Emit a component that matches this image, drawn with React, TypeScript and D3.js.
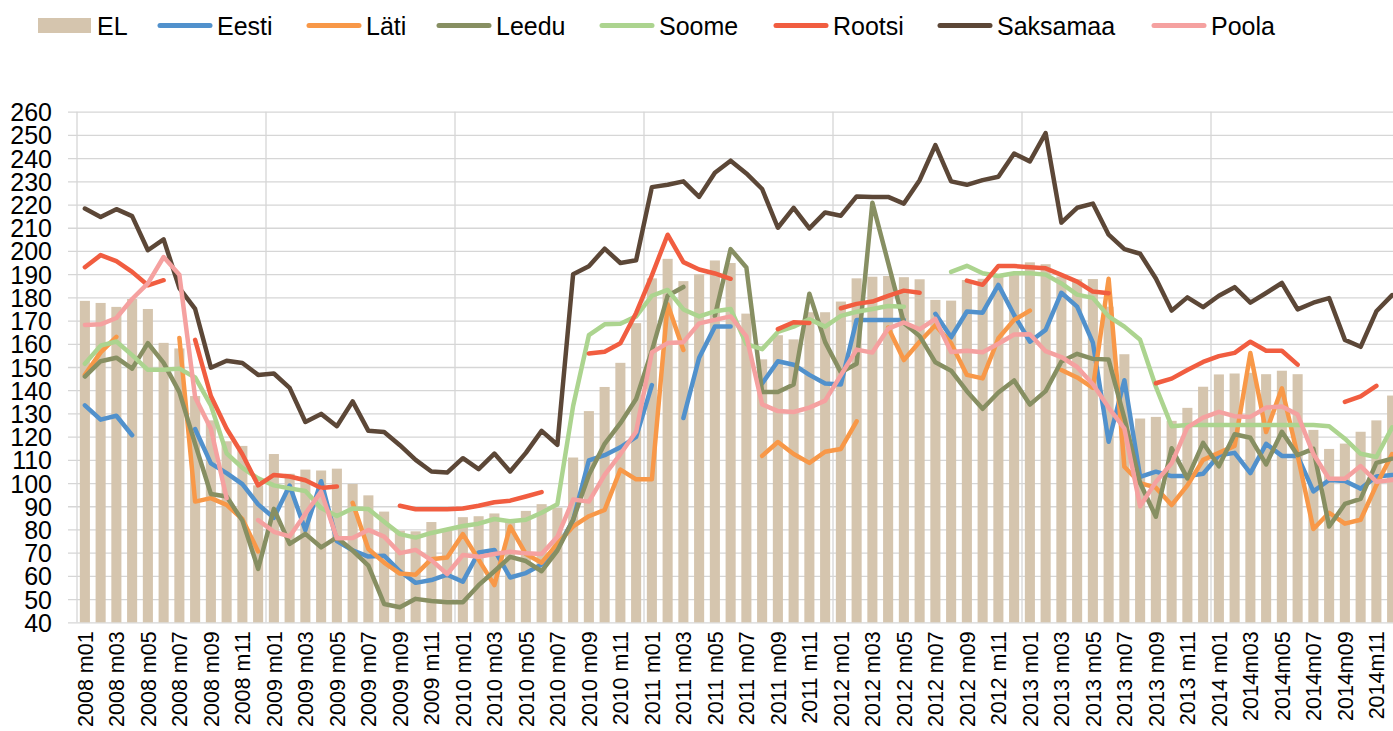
import { useEffect, useRef } from "react";
import * as d3 from "d3";

// month labels, 2008 m01 .. 2014 m12
const categories = [
  "2008 m01", "2008 m02", "2008 m03", "2008 m04", "2008 m05", "2008 m06",
  "2008 m07", "2008 m08", "2008 m09", "2008 m10", "2008 m11", "2008 m12",
  "2009 m01", "2009 m02", "2009 m03", "2009 m04", "2009 m05", "2009 m06",
  "2009 m07", "2009 m08", "2009 m09", "2009 m10", "2009 m11", "2009 m12",
  "2010 m01", "2010 m02", "2010 m03", "2010 m04", "2010 m05", "2010 m06",
  "2010 m07", "2010 m08", "2010 m09", "2010 m10", "2010 m11", "2010 m12",
  "2011 m01", "2011 m02", "2011 m03", "2011 m04", "2011 m05", "2011 m06",
  "2011 m07", "2011 m08", "2011 m09", "2011 m10", "2011 m11", "2011 m12",
  "2012 m01", "2012 m02", "2012 m03", "2012 m04", "2012 m05", "2012 m06",
  "2012 m07", "2012 m08", "2012 m09", "2012 m10", "2012 m11", "2012 m12",
  "2013 m01", "2013 m02", "2013 m03", "2013 m04", "2013 m05", "2013 m06",
  "2013 m07", "2013 m08", "2013 m09", "2013 m10", "2013 m11", "2013 m12",
  "2014 m01", "2014m02", "2014m03", "2014m04", "2014m05", "2014m06",
  "2014m07", "2014m08", "2014m09", "2014m10", "2014m11", "2014m12",
];

const yTicks = [40, 50, 60, 70, 80, 90, 100, 110, 120, 130, 140, 150, 160, 170, 180, 190, 200, 210, 220, 230, 240, 250, 260];

const EL = [
  178.5, 177.6, 175.9, 179.3, 175, 160.4, 158, 137.5, 127, 118, 116, 99,
  112.5, 104, 105.8, 105.4, 106.2, 99.6, 94.7, 87.7, 79.5, 79.2, 83.2, 80,
  85.3, 85.7, 86.9, 84.5, 88, 90.9, 89.4, 111, 131, 141.4, 151.8, 168.9,
  188.2, 196.6, 187, 190, 195.9, 194.8, 173, 153.3, 163.7, 161.9, 173.6, 173.6,
  178.2, 188.2, 188.9, 189.2, 188.7, 187.8, 178.9, 178.6, 187.5, 188, 189, 190.4,
  195.1, 194.3, 189, 187.8, 187.9, 176, 155.5, 127.8, 128.5, 126.8, 132.4, 141.5,
  146.8, 147.2, 147.5, 146.9, 148.4, 146.9, 122.9, 114.7, 117, 122.1, 127, 137.7,
];

const eesti = [
  133.5, 127.3, 129, 120.6, null, null, null, 123.3, 108.5, 104.3, 99.5, 90.8,
  85, 98.9, 79.7, 100.8, 75, 71, 68.3, 68.7, 62, 57, 58.2, 60.5,
  57.5, 70.1, 71.2, 59.3, 61.2, 64.9, 72, 84, 109.8, 112, 115.4, 119.9,
  142.2, null, 128, 154, 167.4, 167.4, null, 142.9, 152.5, 151, 146.6, 142.9,
  142.5, 170.3, 170.3, 170.3, 170.3, null, 172.9, 162.8, 173.9, 173.4, 185.4, 172.4,
  160.9, 166, 182, 176, 160.5, 117.8, 144.3, 102.7, 104.9, 103, 103, 104,
  112, 113, 104.3, 116.9, 111.7, 111.7, 96.4, 101.3, 100.9, 97.6, 102.8, 103.5,
];

const lati = [
  146.6, 156.3, 163, null, null, null, 162.5, 92, 93.5, 90.6, 84.5, 70.5,
  null, null, null, null, null, 91.5, 71.6, 65.7, 61, 60.5, 67.2, 67.9,
  78, 67, 56, 81.3, 69.4, 65.7, 73.9, 81.3, 85.7, 88.4, 105.8, 101.6,
  101.6, 177, 157.3, null, null, null, null, 111.7, 117.7, 112.5, 108.7, 113.5,
  114.7, 126.6, null, 167, 153, 160.9, 168, 160.2, 146.6, 145.1, 162.4, 170.3,
  174.3, null, 148.7, 145.5, 141, 188, 107, 100, 98, 90.5, 99, 110,
  113, 116, 156, 122, 140.8, 112, 80.2, 87.2, 82.5, 84.2, 99.1, 112.5,
];

const leedu = [
  145.9, 152.5, 154, 149.3, 160.3, 151.8, 139.2, 116.9, 95.3, 94.2, 83.8, 63,
  88.9, 73.8, 78.1, 72.3, 76.6, 70.9, 64.4, 47.9, 46.5, 50.1, 49.2, 48.6,
  48.6, 56, 62, 68.2, 66.4, 62, 70.9, 84.2, 103.5, 116.9, 125.8, 136.2,
  157, 180.7, 184.5, null, 172, 200.8, 192.9, 139.2, 139.2, 142.5, 181.6, 160.7,
  147.7, 151.4, 220.8, 195, 169, 163.3, 152, 148.4, 139.6, 132, 139, 144.2,
  133.8, 139.6, 152.4, 155.7, 153.5, 153.2, 128, 100, 85.5, 115, 102, 117.3,
  107.2, 121, 119.5, 108, 122.1, 112, 114.7, 81.3, 91, 93.2, 108.7, 110.5,
];

const soome = [
  151.4, 159.2, 161, 155.1, 148.8, 148.8, 149.3, 145.5, 133.5, 112.8, 106.5, 102,
  99, 97.7, 96.6, 89.2, 85.8, 89, 88.8, 83.3, 78, 76.5, 78.5, 80,
  81.5, 82.5, 84.5, 83.5, 84.2, 87.2, 90.9, 133.2, 163.7, 168.4, 168.6, 171.8,
  180.7, 183.2, 174.8, 171.8, 174, 175, 159.9, 157.7, 165.1, 167.4, 170.6, 167.4,
  172, 173.8, 175, 176.3, 176, null, null, 191, 193.6, 190.4, 189.2, 190.4,
  190.4, 189.8, 186, 181.2, 179.8, 171.8, 167.4, 161.7, 141.5, 124.5, 125, 125,
  125, 125, 125, 125, 125, 125, 125, 124.5, 119.1, 112.6, 111.2, 124,
];

const rootsi = [
  193, 198.2, 195.6, 191, 185.2, 187.4, null, 161.7, 137.5, 123.4, 112.4, 99,
  103.5, 102.8, 101.2, 97.9, 98.5, null, null, null, 90.2, 88.7, 88.7, 88.7,
  89, 90.2, 91.7, 92.4, 94.2, 96.1, null, null, 155.8, 156.6, 160.2, 173.3,
  189.5, 207, 195.2, 192, 190.3, 188, null, null, 166.3, 169.3, 169, null,
  175.3, 177.2, 178.2, 180.6, 182.9, 182, null, null, 187.2, 185.4, 193.5, 193.5,
  193, 192.5, 189.7, 186.8, 182.5, 181.8, null, null, 143, 145, 148.7, 152.2,
  154.7, 156.1, 160.9, 157, 157, 151, null, null, 135, 137.3, 141.9, null,
];

const saksamaa = [
  218.3, 214.6, 218, 215, 200.3, 205, 184, 175, 149.7, 152.7, 151.7, 146.6,
  147.2, 141, 126.3, 129.8, 124.5, 135.2, 122.5, 122, 116.3, 110, 105, 104.5,
  110.7, 106, 112.7, 105, 113, 122.5, 116.5, 190, 193.4, 201, 194.8, 196,
  227.5, 228.5, 230, 223.3, 233.7, 238.9, 233.4, 226.7, 210, 218.6, 209.7, 216.6,
  215.2, 223.5, 223.3, 223.3, 220.4, 230.5, 245.6, 230, 228.5, 230.5, 232, 242,
  238.6, 250.8, 212.2, 218.6, 220.4, 207, 200.8, 198.8, 188.1, 174.3, 180, 175.8,
  180.7, 184.4, 177.7, 181.9, 186.2, 174.8, 177.7, 179.7, 161.7, 158.7, 174, 181,
];

const poola = [
  168.1, 168.4, 171.1, 179.3, 186, 197.4, 189.7, 137, 123.4, 93.5, null, 84,
  79, 77, 86.8, 96.3, 76.2, 76.3, 79.8, 76.9, 69.8, 71.2, 66.8, 60.8,
  69, 68.2, 69.4, 70.4, 69.7, 69.4, 76.8, 92.9, 92, 103.5, 112.5, 122.1,
  156.3, 160.3, 160.7, 168.8, 170.3, 171.8, 163.2, 133.9, 131, 130.6, 132.5, 135.5,
  146.5, 157.5, 156.2, 166.5, 169.2, 166.2, 170.7, 156.5, 157, 156.4, 160, 164,
  164.1, 156.8, 154.3, 150, 142.6, 132.5, 123.5, 90, 100.5, 108.5, 124, 128.2,
  130.7, 128.8, 128.5, 132.5, 133, 129.5, 112.5, 101.8, 101.8, 107.3, 100.6, 101.3,
];

const lineSeries = [
  { name: "Eesti", values: eesti, color: "#5191cc" },
  { name: "Läti", values: lati, color: "#f89848" },
  { name: "Leedu", values: leedu, color: "#878f62" },
  { name: "Soome", values: soome, color: "#acd48f" },
  { name: "Rootsi", values: rootsi, color: "#f15d40" },
  { name: "Saksamaa", values: saksamaa, color: "#5c4737" },
  { name: "Poola", values: poola, color: "#f5a1a0" },
];

const barColor = "#d5c5ae";
const gridColor = "#d6d6d6";
const font = "'Liberation Sans', Arial, sans-serif";

// legend x positions (swatch start)
const legendX = [38, 158, 307, 437, 600, 774, 938, 1152];

export default function App() {
  const ref = useRef<SVGSVGElement>(null);

  useEffect(() => {
    const svg = d3.select(ref.current);
    svg.selectAll("*").remove();

    const left = 77;
    const step = 15.75;
    const right = left + categories.length * step;
    const top = 111.7;
    const bottom = 622.3;

    const x = d3
      .scaleBand<string>()
      .domain(categories)
      .range([left, right])
      .paddingInner(0.36)
      .paddingOuter(0.18);
    const y = d3.scaleLinear().domain([40, 260]).range([bottom, top]);
    const cx = (i: number) => (x(categories[i]) ?? 0) + x.bandwidth() / 2;

    // horizontal grid + y labels
    const yAxis = svg
      .append("g")
      .attr("transform", "translate(68,0)")
      .call(
        d3
          .axisLeft(y)
          .tickValues(yTicks)
          .tickSize(-(right - 68))
          .tickPadding(16)
      );
    yAxis.select(".domain").remove();
    yAxis.selectAll("line").attr("stroke", gridColor).attr("stroke-width", 1.3);
    yAxis
      .selectAll("text")
      .attr("fill", "#000")
      .style("font-family", font)
      .style("font-size", "25px")
      .attr("dy", "0.36em");

    // vertical lines at year boundaries
    const yearStarts = categories.map((c, i) => i).filter((i) => i % 12 === 0);
    svg
      .append("g")
      .selectAll("line")
      .data(yearStarts)
      .join("line")
      .attr("x1", (i) => (x(categories[i]) ?? 0) - x.step() * 0.18)
      .attr("x2", (i) => (x(categories[i]) ?? 0) - x.step() * 0.18)
      .attr("y1", top)
      .attr("y2", bottom)
      .attr("stroke", gridColor)
      .attr("stroke-width", 1.3);

    // EL bars
    svg
      .append("g")
      .selectAll("rect")
      .data(EL)
      .join("rect")
      .attr("x", (d, i) => x(categories[i]) ?? 0)
      .attr("y", (d) => y(d))
      .attr("width", x.bandwidth())
      .attr("height", (d) => y(40) - y(d))
      .attr("fill", barColor);

    // x axis labels
    const xAxis = svg
      .append("g")
      .attr("transform", `translate(0,${bottom})`)
      .call(
        d3
          .axisBottom(x)
          .tickValues(categories.filter((c, i) => i % 2 === 0))
          .tickSize(0)
      );
    xAxis.select(".domain").remove();
    xAxis
      .selectAll("text")
      .attr("transform", "rotate(-90)")
      .attr("x", -9)
      .attr("y", 0)
      .attr("dy", "0.36em")
      .style("text-anchor", "end")
      .style("font-family", font)
      .style("font-size", "21.5px")
      .attr("fill", "#000");

    // country lines
    const line = d3
      .line<number | null>()
      .defined((d) => d != null)
      .x((d, i) => cx(i))
      .y((d) => y(d as number));

    svg
      .append("g")
      .selectAll("path")
      .data(lineSeries)
      .join("path")
      .attr("d", (s) => line(s.values))
      .attr("fill", "none")
      .attr("stroke", (s) => s.color)
      .attr("stroke-width", 4.5)
      .attr("stroke-linejoin", "round")
      .attr("stroke-linecap", "round");

    // legend
    const legend = svg.append("g").style("font-family", font).style("font-size", "25px");
    legend
      .append("rect")
      .attr("x", legendX[0])
      .attr("y", 18)
      .attr("width", 53)
      .attr("height", 15)
      .attr("fill", barColor);
    legend
      .append("text")
      .attr("x", legendX[0] + 59)
      .attr("y", 25.5)
      .attr("dy", "0.36em")
      .text("EL");
    lineSeries.forEach((s, k) => {
      const lx = legendX[k + 1];
      legend
        .append("line")
        .attr("x1", lx + 2)
        .attr("x2", lx + 52)
        .attr("y1", 25.5)
        .attr("y2", 25.5)
        .attr("stroke", s.color)
        .attr("stroke-width", 5)
        .attr("stroke-linecap", "round");
      legend
        .append("text")
        .attr("x", lx + 59)
        .attr("y", 25.5)
        .attr("dy", "0.36em")
        .text(s.name);
    });
  }, []);

  return (
    <svg
      ref={ref}
      width={1393}
      height={731}
      style={{ position: "absolute", left: 0, top: 0, background: "#fff" }}
    />
  );
}
